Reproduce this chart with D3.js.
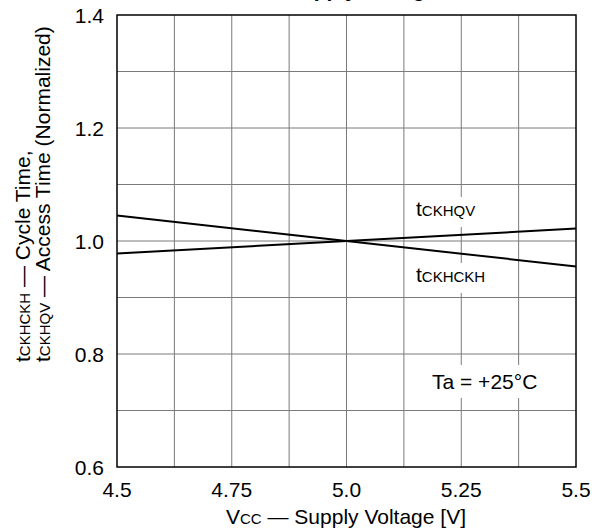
<!DOCTYPE html>
<html><head><meta charset="utf-8">
<script src="https://cdn.jsdelivr.net/npm/d3@7"></script>
<style>body{margin:0;background:#fff}svg{display:block}</style>
</head><body>
<script>
const voltages = [4.5, 5.0, 5.5];
const tCKHCKH = [1.045, 1.0, 0.955];
const tCKHQV = [0.978, 1.0, 1.022];
const xTicks = [4.5, 4.75, 5.0, 5.25, 5.5];
const xTickLabels = ["4.5", "4.75", "5.0", "5.25", "5.5"];
const yTicks = [0.6, 0.8, 1.0, 1.2, 1.4];
const yTickLabels = ["0.6", "0.8", "1.0", "1.2", "1.4"];
const xGrid = d3.range(0, 9).map(i => 4.5 + i * 0.125);
const yGrid = d3.range(0, 9).map(i => 0.6 + i * 0.1);

const W = 594, H = 529;
const svg = d3.select("body").append("svg").attr("width", W).attr("height", H);
const font = "Liberation Sans, Arial, sans-serif";
const x = d3.scaleLinear().domain([4.5, 5.5]).range([117, 576]);
const y = d3.scaleLinear().domain([0.6, 1.4]).range([467, 15]);

// title (cut off at the top edge, as in the reference)
svg.append("text").attr("x", 437).attr("y", -3).attr("text-anchor", "end")
  .attr("font-family", font).attr("font-weight", "bold").attr("font-size", 21)
  .text("vs. Supply Voltage");

// grid
svg.append("g").selectAll("line").data(xGrid.slice(1, -1)).join("line")
  .attr("x1", d => x(d)).attr("x2", d => x(d)).attr("y1", y(0.6)).attr("y2", y(1.4))
  .attr("stroke", "#7a7a7a").attr("stroke-width", 1);
svg.append("g").selectAll("line").data(yGrid.slice(1, -1)).join("line")
  .attr("y1", d => y(d)).attr("y2", d => y(d)).attr("x1", x(4.5)).attr("x2", x(5.5))
  .attr("stroke", "#7a7a7a").attr("stroke-width", 1);

// data lines
const line = d3.line().x(d => x(d[0])).y(d => y(d[1]));
[tCKHCKH, tCKHQV].forEach(s => {
  svg.append("path").datum(voltages.map((v, i) => [v, s[i]])).attr("d", line)
    .attr("fill", "none").attr("stroke", "#000").attr("stroke-width", 2);
});

// frame
svg.append("rect").attr("x", x(4.5)).attr("y", y(1.4)).attr("width", x(5.5) - x(4.5))
  .attr("height", y(0.6) - y(1.4)).attr("fill", "none").attr("stroke", "#000").attr("stroke-width", 1.5);

// labels with white backgrounds
function label(px, py, parts, bg) {
  const g = svg.append("g");
  g.append("rect").attr("x", bg[0]).attr("y", bg[1]).attr("width", bg[2]).attr("height", bg[3]).attr("fill", "#fff");
  const t = g.append("text").attr("x", px).attr("y", py).attr("font-family", font).attr("fill", "#000");
  parts.forEach(p => t.append("tspan").attr("font-size", p[1]).text(p[0]));
}
label(416, 216, [["t", 21], ["CKHQV", 15]], [410, 197, 78, 30]);
label(416, 282, [["t", 21], ["CKHCKH", 15]], [410, 263, 88, 30]);
label(432, 389, [["Ta = +25°C", 21]], [425, 365, 123, 33]);

// tick labels
svg.append("g").selectAll("text").data(xTicks).join("text")
  .attr("x", d => x(d)).attr("y", 497).attr("text-anchor", "middle")
  .attr("font-family", font).attr("font-size", 21).text((d, i) => xTickLabels[i]);
svg.append("g").selectAll("text").data(yTicks).join("text")
  .attr("x", 104).attr("y", d => y(d) + 7.5).attr("text-anchor", "end")
  .attr("font-family", font).attr("font-size", 21).text((d, i) => yTickLabels[i]);

// x axis title
const xt = svg.append("text").attr("x", 346).attr("y", 524).attr("text-anchor", "middle")
  .attr("font-family", font).attr("font-size", 21);
xt.append("tspan").text("V");
xt.append("tspan").attr("font-size", 15).text("CC");
xt.append("tspan").text(" — Supply Voltage [V]");

// y axis title
const yl1 = svg.append("text").attr("transform", "translate(30,362) rotate(-90)")
  .attr("font-family", font).attr("font-size", 21);
yl1.append("tspan").text("t");
yl1.append("tspan").attr("font-size", 15).text("CKHCKH");
yl1.append("tspan").text(" — Cycle Time,");
const yl2 = svg.append("text").attr("transform", "translate(50,362) rotate(-90)")
  .attr("font-family", font).attr("font-size", 21);
yl2.append("tspan").text("t");
yl2.append("tspan").attr("font-size", 15).text("CKHQV");
yl2.append("tspan").text(" — Access Time (Normalized)");
</script>
</body></html>
